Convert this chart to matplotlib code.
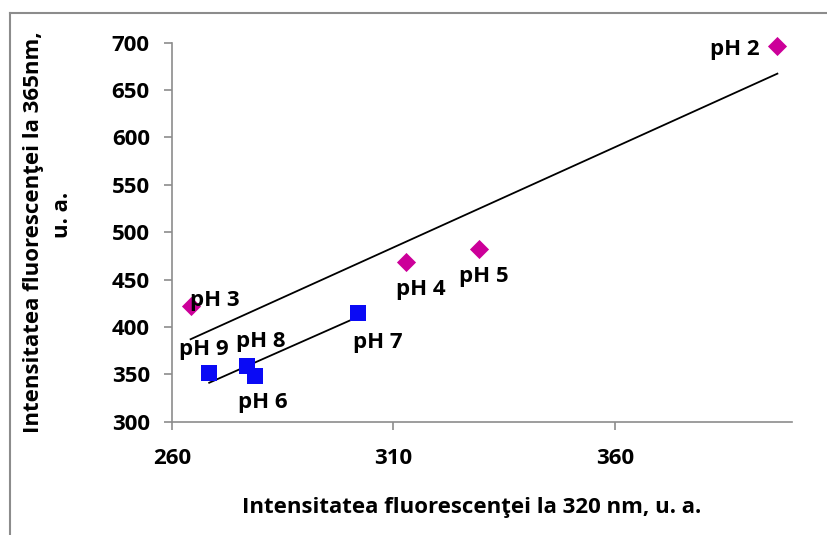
import matplotlib
matplotlib.use("Agg")
import matplotlib.pyplot as plt
from matplotlib.lines import Line2D
import numpy as np

plt.rcParams['font.family'] = ['Open Sans', 'DejaVu Sans']
plt.rcParams['font.weight'] = 'bold'

# acidic samples (diamonds) and basic samples (squares)
acid_labels = ['pH 2', 'pH 3', 'pH 4', 'pH 5']
acid_x = [396.7, 264.2, 312.8, 329.3]
acid_y = [696, 422, 469, 482]

base_labels = ['pH 6', 'pH 7', 'pH 8', 'pH 9']
base_x = [278.7, 302.0, 277.0, 268.4]
base_y = [348, 415, 359, 351]

x_ticks = [260, 310, 360]
y_ticks = [300, 350, 400, 450, 500, 550, 600, 650, 700]

FS = 16
W, H = 828, 535
fig = plt.figure(figsize=(W / 100, H / 100), dpi=100)
ax = fig.add_axes([172 / W, 1 - 421.7 / H, 620 / W, 379 / H])

ax.scatter(acid_x, acid_y, marker='D', s=95, color='#CC0099', zorder=3,
           linewidths=0, clip_on=False)
ax.scatter(base_x, base_y, marker='s', s=125, color='#0A0AF5', zorder=3,
           linewidths=0, clip_on=False)

# linear trend lines for each group
for xs, ys in [(acid_x, acid_y), (base_x, base_y)]:
    k, b = np.polyfit(xs, ys, 1)
    xx = np.array([min(xs), max(xs)])
    ax.plot(xx, k * xx + b, color='black', lw=1.3, zorder=2)

# label offsets in points, plus alignment
offsets = {
    'pH 2': (-12.5, -2.2, 'right'),
    'pH 3': (-0.5, 4.3, 'left'),
    'pH 4': (10.8, -19.9, 'center'),
    'pH 5': (3.2, -19.9, 'center'),
    'pH 6': (5.6, -18.7, 'center'),
    'pH 7': (14.0, -21.6, 'center'),
    'pH 8': (9.9, 17.5, 'center'),
    'pH 9': (-4.0, 17.3, 'center'),
}
for labs, xs, ys in [(acid_labels, acid_x, acid_y), (base_labels, base_x, base_y)]:
    for lab, x, y in zip(labs, xs, ys):
        dx, dy, ha = offsets[lab]
        ax.annotate(lab, (x, y), xytext=(dx, dy), textcoords='offset points',
                    ha=ha, va='center', fontsize=FS, fontweight='bold', zorder=4)

ax.set_xlim(260, 400)
ax.set_ylim(300, 700)
ax.set_xticks(x_ticks)
ax.set_yticks(y_ticks)
for side in ['top', 'right']:
    ax.spines[side].set_visible(False)
for side in ['left', 'bottom']:
    ax.spines[side].set_color('#8C8C8C')
    ax.spines[side].set_linewidth(1.2)
ax.tick_params(colors='#8C8C8C', width=1.2, length=6, labelcolor='black',
               labelsize=FS)
ax.tick_params(axis='y', pad=10)
ax.tick_params(axis='x', pad=13)
for t in ax.get_xticklabels() + ax.get_yticklabels():
    t.set_fontweight('bold')

fig.text(472 / W, 1 - 508 / H, 'Intensitatea fluorescenţei la 320 nm, u. a.',
         ha='center', va='center', fontsize=FS, fontweight='bold')
fig.text(34 / W, 1 - 232 / H, 'Intensitatea fluorescenţei la 365nm,',
         ha='center', va='center', rotation=90, fontsize=FS, fontweight='bold')
fig.text(63 / W, 1 - 215 / H, 'u. a.',
         ha='center', va='center', rotation=90, fontsize=FS, fontweight='bold')

# chart area frame (left and top edges only)
fig.add_artist(Line2D([10 / W, 10 / W], [0, 1 - 13 / H], color='#8C8C8C', lw=1.5))
fig.add_artist(Line2D([10 / W, 1], [1 - 13 / H, 1 - 13 / H], color='#8C8C8C', lw=1.5))

fig.savefig('out.png', dpi=100)
